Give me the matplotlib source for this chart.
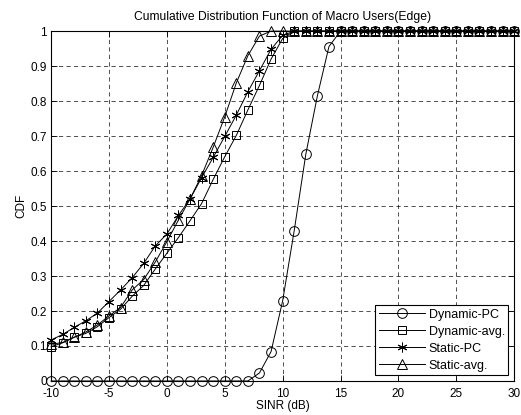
import numpy as np
import matplotlib.pyplot as plt

plt.rcParams['font.family'] = ['Liberation Sans', 'DejaVu Sans']
plt.rcParams['axes.unicode_minus'] = False

sinr = np.arange(-10, 31)

dynamic_pc = [0] * 18 + [0.023, 0.084, 0.229, 0.43, 0.648, 0.815, 0.956] + [1] * 16
dynamic_avg = [0.098, 0.109, 0.125, 0.136, 0.155, 0.181, 0.205, 0.242, 0.273, 0.32,
               0.365, 0.41, 0.458, 0.507, 0.576, 0.641, 0.702, 0.775, 0.845, 0.92,
               0.979] + [1] * 20
static_pc = [0.117, 0.133, 0.153, 0.172, 0.194, 0.227, 0.26, 0.295, 0.336, 0.386,
             0.42, 0.473, 0.52, 0.581, 0.639, 0.699, 0.76, 0.827, 0.887, 0.948,
             0.988] + [1] * 20
static_avg = [0.105, 0.11, 0.125, 0.14, 0.16, 0.186, 0.21, 0.26, 0.29, 0.34,
              0.398, 0.46, 0.52, 0.587, 0.668, 0.755, 0.852, 0.93, 0.986] + [1] * 22

labels = ['Dynamic-PC', 'Dynamic-avg.', 'Static-PC', 'Static-avg.']
markers = ['o', 's', (6, 2, 0), '^']

fig = plt.figure(figsize=(5.21, 4.15), dpi=100)
ax = fig.add_axes([0.098, 0.082, 0.889, 0.843])

series = [dynamic_pc, dynamic_avg, static_pc, static_avg]
for vals, lab, m in zip(series, labels, markers):
    ms = 7 if m != 's' else 6
    ax.plot(sinr, vals, color='black', lw=0.7, marker=m, ms=ms,
            mfc='none', mec='black', mew=0.7, label=lab, clip_on=False, zorder=3)

ax.set_xlim(-10, 30)
ax.set_ylim(0, 1)
ax.set_xticks(np.arange(-10, 31, 5))
ax.set_yticks(np.arange(0, 1.01, 0.1))
ax.set_yticklabels(['0', '0.1', '0.2', '0.3', '0.4', '0.5', '0.6', '0.7', '0.8', '0.9', '1'])
ax.tick_params(direction='in', top=True, right=True, labelsize=8.5, length=4, width=0.6)
ax.tick_params(axis='x', pad=5)
ax.tick_params(axis='y', pad=3)
ax.grid(True, color='black', linestyle=(0, (5, 4)), linewidth=0.6, alpha=0.8)
for s in ax.spines.values():
    s.set_linewidth(0.8)

ax.set_xlabel('SINR (dB)', fontsize=8.5, labelpad=0)
ax.set_ylabel('CDF', fontsize=8.5, labelpad=2)
ax.set_title('Cumulative Distribution Function of Macro Users(Edge)', fontsize=8.75, pad=8)

leg = ax.legend(loc='lower right', fontsize=9, fancybox=False, edgecolor='black',
                framealpha=1, handlelength=3.7, handletextpad=0.3, borderpad=0.25,
                labelspacing=0.4, borderaxespad=0.5)
leg.get_frame().set_linewidth(0.8)
leg.set_zorder(5)

fig.savefig('out.png', dpi=100)
